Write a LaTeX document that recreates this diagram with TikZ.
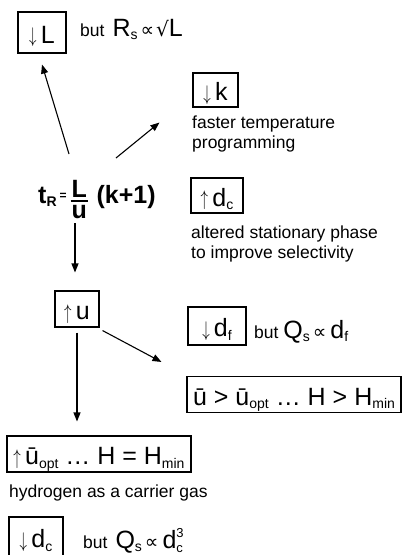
\documentclass[tikz,border=0pt]{standalone}
\usepackage{amsmath}
\usepackage{fontspec}
\setmainfont{Liberation Sans}
\newfontfamily\mydjv{DejaVu Sans}
\usetikzlibrary{arrows.meta}

\newcommand\mysmall{\fontsize{17.5}{21}\selectfont}
\newcommand\mybig{\fontsize{25}{30}\selectfont}
\newcommand\mysub[1]{\raisebox{-3.5pt}{\fontsize{14}{14}\selectfont #1}}
\newcommand\mysubsup[2]{\raisebox{-4.5pt}{\fontsize{13}{13}\selectfont\vbox{\baselineskip=15pt\hbox{#2}\hbox{#1}}}}
\newcommand\mydn{\raisebox{0.5pt}{\scalebox{0.6}[0.85]{$\downarrow$}}}
\newcommand\myup{\raisebox{0.5pt}{\scalebox{0.6}[0.85]{$\uparrow$}}}
\newcommand\myprop{{\mydjv\fontsize{19}{19}\selectfont ∝}}
\newcommand\myroot{{\mydjv\fontsize{20}{20}\selectfont √}}
\newcommand\myfrac[2]{\raisebox{-15pt}{\vbox{\hbox to 17pt{\hss #1\hss}\kern2pt\hrule height 2pt\kern3pt\hbox to 17pt{\hss #2\hss}}}}

\begin{document}
\begin{tikzpicture}[x=1pt,y=-1pt,
  box/.style={draw,line width=1.1pt,inner sep=0pt,font=\mybig,text height=21pt,text depth=0pt},
  lbl/.style={anchor=base west,inner sep=0pt,font=\mysmall},
  arr/.style={line width=1.1pt,-{Triangle[length=9pt,width=7pt]}}]
\useasboundingbox (0,0) rectangle (403,555);

\node[box,minimum width=48pt,minimum height=41pt] (L) at (42,32.5) {\mydn\,L};
\node[lbl] (Ltxt) at (80,36) {but\hspace{8pt}{\mybig R\mysub{s}}\hspace{3pt}\myprop\hspace{2pt}\myroot{\mybig L}};

\node[box,minimum width=45pt,minimum height=34pt] (k) at (215.5,90) {\mydn\,k};
\node[lbl] (k1) at (192,128) {faster temperature};
\node[lbl] (k2) at (192,148) {programming};

\node[box,minimum width=52pt,minimum height=35pt] (dc) at (217,195.5) {\myup\,d\mysub{c}};
\node[lbl] (dc1) at (191,238) {altered stationary phase};
\node[lbl] (dc2) at (191,258) {to improve selectivity};

\node[anchor=base west,inner sep=0pt] (tR) at (38,203)
  {\fontsize{25}{30}\selectfont\bfseries t\raisebox{-3pt}{\fontsize{14}{14}\selectfont R}\hspace{3pt}\raisebox{4pt}{\fontsize{12}{12}\selectfont =}\hspace{4pt}\myfrac{L}{u}\hspace{9pt}(k+1)};

\node[box,minimum width=44pt,minimum height=36pt] (u) at (77,309) {\myup\,u};

\node[box,minimum width=58pt,minimum height=38pt] (df) at (217,326) {\mydn\,d\mysub{f}};
\node[lbl] (dft) at (254,338) {but {\mybig Q\mysub{s}}\hspace{3pt}\myprop\hspace{4pt}{\mybig d\mysub{f}}};

\node[box,minimum width=214pt,minimum height=36pt] (ugt) at (294,394.5) {ū > ū\mysub{opt} \ldots{} H > H\mysub{min}};

\node[box,minimum width=184pt,minimum height=36pt] (uopt) at (99,454) {\myup\,ū\mysub{opt} \ldots{} H = H\mysub{min}};
\node[lbl] (h2) at (9,497) {hydrogen as a carrier gas};

\node[box,minimum width=54pt,minimum height=40pt] (dcs) at (36,537) {\mydn\,d\mysub{c}};
\node[lbl] (dcst) at (83,548) {but\hspace{8pt}{\mybig Q\mysub{s}}\hspace{3pt}\myprop\hspace{4pt}{\mybig d\mysubsup{c}{3}}};

\draw[arr] ([shift={(31,-49)}]tR.base west) -- ([shift={(0,11)}]L.south);
\draw[arr] ([shift={(78,-45)}]tR.base west) -- ([shift={(-33,15)}]k.south west);
\draw[arr] ([shift={(37,20)}]tR.base west) -- ([shift={(-2,-18)}]u.north);
\draw[arr] ([shift={(3,3)}]u.south east) -- ([shift={(-25,-14)}]ugt.north west);
\draw[arr] ([shift={(0,5)}]u.south) -- ([shift={(-22,-14)}]uopt.north);
\end{tikzpicture}
\end{document}
